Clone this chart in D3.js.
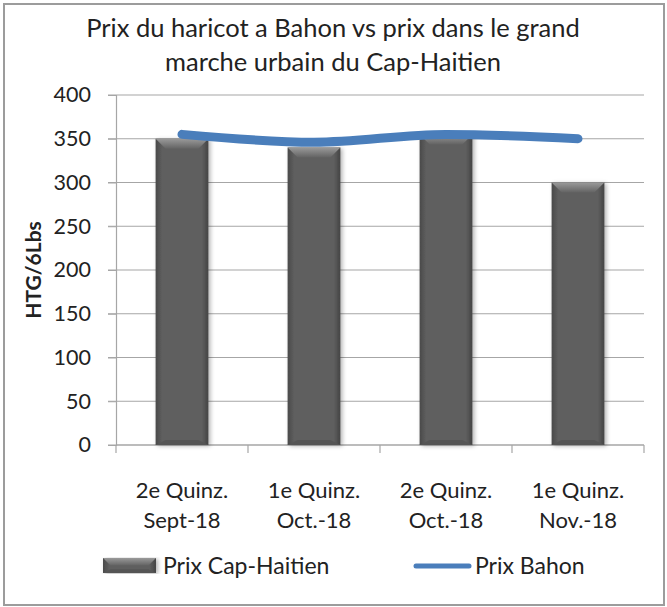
<!DOCTYPE html>
<html>
<head>
<meta charset="utf-8">
<script src="https://cdn.jsdelivr.net/npm/d3@7"></script>
<style>
body { margin:0; background:#fff; }
text { font-family: Lato, "Open Sans", sans-serif; fill:#222; }
</style>
</head>
<body>
<div id="chart"></div>
<script>
var categories = [["2e Quinz.","Sept-18"],["1e Quinz.","Oct.-18"],["2e Quinz.","Oct.-18"],["1e Quinz.","Nov.-18"]]
var capHaitien = [350, 340, 355, 300]
var bahon = [355, 346, 355, 350]
var yTicks = [0, 50, 100, 150, 200, 250, 300, 350, 400]
var titleLines = ["Prix du haricot a Bahon vs prix dans le grand", "marche urbain du Cap-Haitien"]
var seriesNames = ["Prix Cap-Haitien", "Prix Bahon"]

var width = 667, height = 607
var plotL = 116, plotR = 644, plotT = 95, plotB = 445

var svg = d3.select('#chart').append('svg').attr('width',width).attr('height',height)

var defs = svg.append('defs')
var g1 = defs.append('linearGradient').attr('id','barSide').attr('x1',0).attr('x2',1).attr('y1',0).attr('y2',0)
g1.append('stop').attr('offset','0').attr('stop-color','#4a4a4a')
g1.append('stop').attr('offset','0.12').attr('stop-color','#5e5e5e')
g1.append('stop').attr('offset','0.88').attr('stop-color','#5e5e5e')
g1.append('stop').attr('offset','1').attr('stop-color','#444')
var g2 = defs.append('linearGradient').attr('id','barTop').attr('x1',0).attr('x2',0).attr('y1',0).attr('y2',1)
g2.append('stop').attr('offset','0').attr('stop-color','#9a9a9a')
g2.append('stop').attr('offset','1').attr('stop-color','#636363')
var flt = defs.append('filter').attr('id','shadow').attr('x','-20%').attr('y','-5%').attr('width','140%').attr('height','110%')
flt.append('feDropShadow').attr('dx',2).attr('dy',1).attr('stdDeviation',2).attr('flood-color','#000').attr('flood-opacity',0.3)

// frame
svg.append('rect').attr('x',4).attr('y',4).attr('width',660).attr('height',601)
	.attr('fill','none').attr('stroke','#9c9c9c').attr('stroke-width',2)

// title
svg.append('g').selectAll('text').data(titleLines).join('text')
	.attr('x',333).attr('y',function(d,i){return 37 + i*34})
	.attr('text-anchor','middle').style('font-size','25.5px').text(function(d){return d})

var x = d3.scaleBand().domain(d3.range(categories.length)).range([plotL,plotR]).paddingInner(0.6).paddingOuter(0.3)
var y = d3.scaleLinear().domain([0,400]).range([plotB,plotT])

// gridlines
svg.append('g').selectAll('line').data(yTicks).join('line')
	.attr('x1',plotL-8).attr('x2',plotR).attr('y1',function(d){return y(d)}).attr('y2',function(d){return y(d)})
	.attr('stroke','#a6a6a6').attr('stroke-width',1.2)

// y axis
var yAxis = svg.append('g').attr('transform','translate('+plotL+',0)')
	.call(d3.axisLeft(y).tickValues(yTicks).tickSize(8).tickPadding(17))
yAxis.select('.domain').attr('stroke','#a6a6a6').attr('stroke-width',1.2)
yAxis.selectAll('.tick line').attr('stroke','#a6a6a6')
yAxis.selectAll('text').style('font-size','21.5px').attr('fill','#222').style('font-family','Lato, sans-serif')

// x axis
var step = (plotR-plotL)/categories.length
var xb = svg.append('g')
xb.append('line').attr('x1',plotL).attr('x2',plotR).attr('y1',plotB).attr('y2',plotB).attr('stroke','#a6a6a6').attr('stroke-width',1.2)
xb.selectAll('line.tk').data(d3.range(categories.length+1)).join('line').attr('class','tk')
	.attr('x1',function(d){return plotL+d*step}).attr('x2',function(d){return plotL+d*step})
	.attr('y1',plotB).attr('y2',plotB+8).attr('stroke','#a6a6a6').attr('stroke-width',1.2)
var xl = xb.selectAll('text').data(categories).join('text')
	.attr('text-anchor','middle').style('font-size','22px')
	.attr('transform',function(d,i){return 'translate('+(x(i)+x.bandwidth()/2)+',0)'})
xl.append('tspan').attr('x',0).attr('y',498).text(function(d){return d[0]})
xl.append('tspan').attr('x',0).attr('y',528).text(function(d){return d[1]})

// y title
svg.append('text').attr('transform','translate(41,'+((plotT+plotB)/2)+') rotate(-90)')
	.attr('text-anchor','middle').style('font-size','21px').style('font-weight','bold').text('HTG/6Lbs')

// bars
function drawBar(g,bx,by,bw,bh){
	var bev = Math.min(10, bh/2)
	g.append('rect').attr('x',bx).attr('y',by).attr('width',bw).attr('height',bh)
		.attr('fill','url(#barSide)').attr('filter','url(#shadow)')
	g.append('path').attr('d','M'+bx+','+by+'L'+(bx+bw)+','+by+'L'+(bx+bw-bev)+','+(by+bev)+'L'+(bx+bev)+','+(by+bev)+'Z')
		.attr('fill','url(#barTop)')
	g.append('path').attr('d','M'+bx+','+(by+bh)+'L'+(bx+bw)+','+(by+bh)+'L'+(bx+bw-bev)+','+(by+bh-bev/2)+'L'+(bx+bev)+','+(by+bh-bev/2)+'Z')
		.attr('fill','#555')
}
var bars = svg.append('g')
capHaitien.forEach(function(v,i){
	drawBar(bars.append('g'), x(i), y(v), x.bandwidth(), y(0)-y(v))
})

// line
var line = d3.line().x(function(d,i){return x(i)+x.bandwidth()/2}).y(function(d){return y(d)}).curve(d3.curveMonotoneX)
svg.append('path').datum(bahon).attr('d',line).attr('fill','none')
	.attr('stroke','#4a7ebb').attr('stroke-width',9).attr('stroke-linecap','round')

// legend
var lg = svg.append('g')
drawBar(lg.append('g'), 103, 558, 53, 15)
lg.append('text').attr('x',163).attr('y',574).style('font-size','23px').text(seriesNames[0])
lg.append('line').attr('x1',416).attr('x2',469).attr('y1',566).attr('y2',566)
	.attr('stroke','#4a7ebb').attr('stroke-width',5).attr('stroke-linecap','round')
lg.append('text').attr('x',475).attr('y',574).style('font-size','23px').text(seriesNames[1])
</script>
</body>
</html>
